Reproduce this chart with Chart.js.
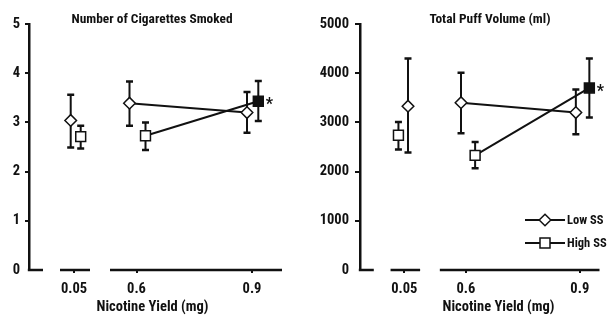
<!DOCTYPE html>
<html><head><meta charset="utf-8">
<script src="https://cdn.jsdelivr.net/npm/chart.js@4.4.1/dist/chart.umd.min.js"></script>
<style>
html,body{margin:0;padding:0;background:#fff;}
#wrap{position:relative;width:608px;height:325px;overflow:hidden;background:#fff;}
canvas{position:absolute;top:0;}
</style></head><body>
<div id="wrap">
<canvas id="c1" width="300" height="325" style="left:0px"></canvas>
<canvas id="c2" width="308" height="325" style="left:300px"></canvas>
</div>
<script>
// ---------- data ----------
const doses = ['0.05', '0.6', '0.9'];
const seriesNames = ['Low SS', 'High SS'];
const xAxisTitle = 'Nicotine Yield (mg)';

// Number of Cigarettes Smoked
const cigTitle = 'Number of Cigarettes Smoked';
const cigTicks = [0, 1, 2, 3, 4, 5];
const cigLowMean  = [3.04, 3.39, 3.20];
const cigLowUpper = [3.56, 3.83, 3.62];
const cigLowLower = [2.49, 2.93, 2.79];
const cigHighMean  = [2.71, 2.73, 3.43];
const cigHighUpper = [2.93, 3.00, 3.84];
const cigHighLower = [2.47, 2.44, 3.03];

// Total Puff Volume (ml)
const tpvTitle = 'Total Puff Volume (ml)';
const tpvTicks = [0, 1000, 2000, 3000, 4000, 5000];
const tpvLowMean  = [3330, 3400, 3200];
const tpvLowUpper = [4300, 4010, 3670];
const tpvLowLower = [2390, 2780, 2760];
const tpvHighMean  = [2740, 2330, 3700];
const tpvHighUpper = [3010, 2600, 4300];
const tpvHighLower = [2450, 2070, 3100];

// significance marker (*) on High SS
const highSignificant = [false, false, true];

// ---------- layout / style ----------
const FONT = '"Roboto Condensed","Open Sans Condensed",sans-serif';
const INK = '#111';
const dosePos = [45, 107.5, 223];            // tick positions along the broken x axis
const axisSegments = [[0, 14], [31, 61], [81, null]];

function makeDataset(label, mean, upper, lower, offsets, style, fills) {
  return {
    label: label,
    data: mean.map((v, i) => ({ x: dosePos[i] + offsets[i], y: v })),
    upper: upper, lower: lower,
    borderColor: INK, borderWidth: 2,
    pointStyle: style,
    pointRadius: style === 'rectRot' ? 5.8 : 7,
    pointHoverRadius: style === 'rectRot' ? 5.8 : 7,
    pointBackgroundColor: fills,
    pointBorderColor: INK, pointBorderWidth: 1.5,
    segment: { borderColor: c => c.p0DataIndex === 0 ? 'rgba(0,0,0,0)' : INK },
    clip: false, tension: 0
  };
}

const errorBars = {
  id: 'errorBars',
  beforeDatasetsDraw(chart) {
    const ctx = chart.ctx, y = chart.scales.y;
    chart.data.datasets.forEach((ds, di) => {
      chart.getDatasetMeta(di).data.forEach((pt, i) => {
        const x = pt.x, yt = y.getPixelForValue(ds.upper[i]), yb = y.getPixelForValue(ds.lower[i]);
        ctx.save();
        ctx.strokeStyle = INK; ctx.lineWidth = 2;
        ctx.beginPath(); ctx.moveTo(x, yt); ctx.lineTo(x, yb); ctx.stroke();
        ctx.lineWidth = 2.5;
        ctx.beginPath();
        ctx.moveTo(x - 3.5, yt); ctx.lineTo(x + 3.5, yt);
        ctx.moveTo(x - 3.5, yb); ctx.lineTo(x + 3.5, yb);
        ctx.stroke();
        ctx.restore();
      });
    });
  }
};

const brokenAxis = {
  id: 'brokenAxis',
  beforeDatasetsDraw(chart) {
    const ctx = chart.ctx, xs = chart.scales.x, yb = chart.chartArea.bottom;
    ctx.save(); ctx.strokeStyle = INK; ctx.lineWidth = 2.5;
    axisSegments.forEach(([a, b]) => {
      const pa = xs.getPixelForValue(a);
      const pb = b === null ? xs.getPixelForValue(xs.max) : xs.getPixelForValue(b);
      ctx.beginPath(); ctx.moveTo(pa - (a === 0 ? 1.2 : 0), yb); ctx.lineTo(pb, yb); ctx.stroke();
    });
    ctx.restore();
  }
};

const asterisk = {
  id: 'asterisk',
  afterDatasetsDraw(chart) {
    const ctx = chart.ctx;
    const meta = chart.getDatasetMeta(1);
    ctx.save(); ctx.fillStyle = INK; ctx.font = 'bold 16px ' + FONT;
    ctx.textAlign = 'left'; ctx.textBaseline = 'alphabetic';
    meta.data.forEach((pt, i) => {
      if (highSignificant[i]) ctx.fillText('*', pt.x + 7.5, pt.y + 8);
    });
    ctx.restore();
  }
};

const panelText = {
  id: 'panelText',
  afterDraw(chart, args, o) {
    const ctx = chart.ctx;
    ctx.save(); ctx.fillStyle = INK; ctx.textAlign = 'center'; ctx.textBaseline = 'alphabetic';
    ctx.font = 'bold 13.4px ' + FONT;
    ctx.fillText(o.title, o.titleX, o.titleY);
    ctx.font = 'bold 14.5px ' + FONT;
    ctx.fillText(o.xTitle, o.xTitleX, o.xTitleY);
    ctx.restore();
  }
};

const legendBox = {
  id: 'legendBox',
  afterDraw(chart, args, o) {
    if (!o.show) return;
    const ctx = chart.ctx;
    chart.data.datasets.forEach((ds, i) => {
      const y = o.y0 + i * o.dy;
      ctx.save();
      ctx.strokeStyle = INK; ctx.lineWidth = 2;
      ctx.beginPath(); ctx.moveTo(o.x0, y); ctx.lineTo(o.x1, y); ctx.stroke();
      ctx.fillStyle = '#fff'; ctx.lineWidth = 1.5;
      const mx = (o.x0 + o.x1) / 2;
      ctx.beginPath();
      if (ds.pointStyle === 'rectRot') {
        const r = 5.8;
        ctx.moveTo(mx, y - r); ctx.lineTo(mx + r, y); ctx.lineTo(mx, y + r); ctx.lineTo(mx - r, y); ctx.closePath();
      } else {
        ctx.rect(mx - 5, y - 5, 10, 10);
      }
      ctx.fill(); ctx.stroke();
      ctx.fillStyle = INK; ctx.font = 'bold 12.5px ' + FONT;
      ctx.textAlign = 'left'; ctx.textBaseline = 'middle';
      ctx.fillText(ds.label, o.x1 + 2, y + 0.5);
      ctx.restore();
    });
  }
};

function makeChart(id, cfg) {
  const tickFont = { family: FONT, size: 14.5, weight: 'bold' };
  return new Chart(document.getElementById(id), {
    type: 'line',
    data: {
      datasets: [
        makeDataset(seriesNames[0], cfg.lowMean, cfg.lowUpper, cfg.lowLower, cfg.lowOff, 'rectRot', ['#fff', '#fff', '#fff']),
        makeDataset(seriesNames[1], cfg.highMean, cfg.highUpper, cfg.highLower, cfg.highOff, 'rect', ['#fff', '#fff', INK])
      ]
    },
    options: {
      responsive: false, animation: false, devicePixelRatio: 1,
      layout: { padding: { left: 0, top: 24, right: cfg.padRight, bottom: 0 } },
      plugins: {
        legend: { display: false }, tooltip: { enabled: false },
        panelText: cfg.text,
        legendBox: cfg.legend
      },
      scales: {
        x: {
          type: 'linear', min: 0, max: cfg.xMax,
          afterBuildTicks: s => { s.ticks = dosePos.map(v => ({ value: v })); },
          ticks: { callback: (v, i) => doses[i], font: tickFont, color: INK, padding: 8, maxRotation: 0, autoSkip: false },
          grid: { drawOnChartArea: false, drawTicks: true, tickLength: 3, color: INK, lineWidth: 2 },
          border: { display: false },
          afterFit: s => { s.height = 55; }
        },
        y: {
          type: 'linear', min: cfg.ticks[0], max: cfg.ticks[cfg.ticks.length - 1],
          afterBuildTicks: s => { s.ticks = cfg.ticks.map(v => ({ value: v })); },
          ticks: { font: tickFont, color: INK, padding: cfg.yPad, callback: v => String(v) },
          grid: { drawOnChartArea: false, drawTicks: true, tickLength: cfg.yTick, lineWidth: 2,
                  color: c => (c.tick && c.tick.value === 0) ? 'rgba(0,0,0,0)' : INK },
          border: { display: true, color: INK, width: 2.5 },
          afterFit: s => { s.width = cfg.yWidth; }
        }
      }
    },
    plugins: [errorBars, brokenAxis, asterisk, panelText, legendBox]
  });
}

makeChart('c1', {
  lowMean: cigLowMean, lowUpper: cigLowUpper, lowLower: cigLowLower,
  highMean: cigHighMean, highUpper: cigHighUpper, highLower: cigHighLower,
  lowOff: [-3.3, -7, -5], highOff: [6.7, 9, 6.3],
  ticks: cigTicks, xMax: 253, padRight: 18, yWidth: 29, yPad: 5, yTick: 4,
  text: { title: cigTitle, titleX: 152, titleY: 23, xTitle: xAxisTitle, xTitleX: 152.5, xTitleY: 311 },
  legend: { show: false }
});

makeChart('c2', {
  lowMean: tpvLowMean, lowUpper: tpvLowUpper, lowLower: tpvLowLower,
  highMean: tpvHighMean, highUpper: tpvHighUpper, highLower: tpvHighLower,
  lowOff: [3.7, -5, -4], highOff: [-6, 9.3, 9.7],
  ticks: tpvTicks, xMax: 243, padRight: 5, yWidth: 60, yPad: 6, yTick: 5,
  text: { title: tpvTitle, titleX: 190, titleY: 23, xTitle: xAxisTitle, xTitleX: 198.5, xTitleY: 311 },
  legend: { show: true, x0: 225, x1: 265, y0: 220, dy: 23 }
});
</script>
</body></html>
